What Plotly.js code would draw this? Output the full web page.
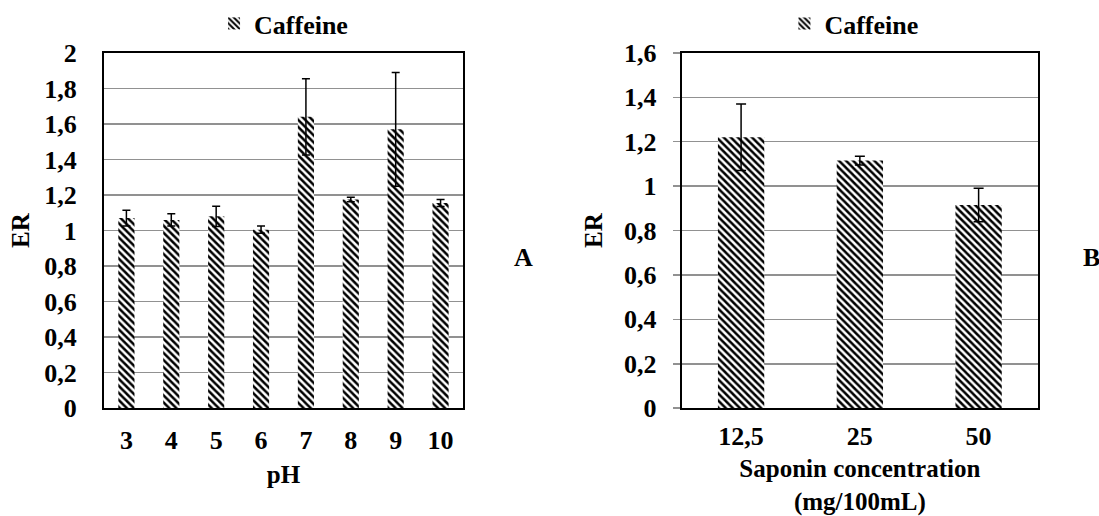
<!DOCTYPE html>
<html>
<head>
<meta charset="utf-8">
<script src="https://cdn.plot.ly/plotly-3.0.1.min.js"></script>
<style>html,body{margin:0;padding:0;background:#fff}#chart{width:1099px;height:516px}</style>
</head>
<body>
<div id="chart"></div>
<script>
// ---- Data ----
const seriesName = 'Caffeine';
const phCategories = ['3', '4', '5', '6', '7', '8', '9', '10'];
const phER = [1.07, 1.06, 1.08, 1.005, 1.64, 1.175, 1.57, 1.155];
const phErr = [0.045, 0.035, 0.057, 0.02, 0.215, 0.013, 0.32, 0.02];

const saponinCategories = ['12,5', '25', '50'];
const saponinER = [1.22, 1.115, 0.915];
const saponinErr = [0.15, 0.02, 0.075];

const yTickValsA = [0, 0.2, 0.4, 0.6, 0.8, 1, 1.2, 1.4, 1.6, 1.8, 2];
const yTickTextA = ['0', '0,2', '0,4', '0,6', '0,8', '1', '1,2', '1,4', '1,6', '1,8', '2'];
const yTickValsB = [0, 0.2, 0.4, 0.6, 0.8, 1, 1.2, 1.4, 1.6];
const yTickTextB = ['0', '0,2', '0,4', '0,6', '0,8', '1', '1,2', '1,4', '1,6'];

const xTitleA = 'pH';
const xTitleB = 'Saponin concentration<br>(mg/100mL)';
const yTitle = 'ER';

// ---- Styles ----
const FONT = 'Liberation Serif';
const tickFont = {family: FONT, size: 26, color: '#000', weight: 'bold'};
const titleFont = {family: FONT, size: 25, color: '#000', weight: 'bold'};
const legendFont = {family: FONT, size: 26, color: '#000', weight: 'bold'};
const pattern = {shape: '\\', size: 5, solidity: 0.5, fgcolor: '#000', fgopacity: 1, bgcolor: '#fff'};

const traces = [
  {
    type: 'bar', name: seriesName, x: phCategories, y: phER, xaxis: 'x', yaxis: 'y',
    width: 0.36, legend: 'legend',
    marker: {color: '#fff', line: {width: 0}, pattern: pattern},
    error_y: {type: 'data', array: phErr, visible: true, color: '#000', thickness: 1.5, width: 4}
  },
  {
    type: 'bar', name: seriesName, x: saponinCategories, y: saponinER, xaxis: 'x2', yaxis: 'y2',
    width: 0.39, legend: 'legend2',
    marker: {color: '#fff', line: {width: 0}, pattern: pattern},
    error_y: {type: 'data', array: saponinErr, visible: true, color: '#000', thickness: 1.5, width: 5}
  }
];

const yDom = [0.2093, 0.8992];

const layout = {
  width: 1099, height: 516,
  margin: {l: 0, r: 0, t: 0, b: 0},
  paper_bgcolor: '#fff', plot_bgcolor: '#fff',
  font: {family: FONT, size: 26, color: '#000', weight: 'bold'},
  showlegend: true,
  xaxis: {
    domain: [0.0946, 0.4213], anchor: 'y', type: 'category',
    showline: true, linecolor: '#000', linewidth: 2, mirror: true,
    showgrid: false, ticks: 'outside', ticklen: 0, ticklabelstandoff: 8,
    tickfont: tickFont, automargin: false,
    title: {text: xTitleA, font: titleFont, standoff: 11}
  },
  yaxis: {
    domain: yDom, anchor: 'x', range: [0, 2],
    tickmode: 'array', tickvals: yTickValsA, ticktext: yTickTextA,
    showline: true, linecolor: '#000', linewidth: 2, mirror: true,
    showgrid: true, gridcolor: '#919191', gridwidth: 1.5, zeroline: false,
    ticks: '', ticklabelstandoff: 20, tickfont: tickFont, automargin: false,
    title: {text: yTitle, font: titleFont, standoff: 8}
  },
  xaxis2: {
    domain: [0.6203, 0.9445], anchor: 'y2', type: 'category',
    showline: true, linecolor: '#000', linewidth: 2, mirror: true,
    showgrid: false, ticks: 'outside', ticklen: 0, ticklabelstandoff: 4,
    tickfont: tickFont, automargin: false,
    title: {text: xTitleB, font: titleFont, standoff: 10}
  },
  yaxis2: {
    domain: yDom, anchor: 'x2', range: [0, 1.6],
    tickmode: 'array', tickvals: yTickValsB, ticktext: yTickTextB,
    showline: true, linecolor: '#000', linewidth: 2, mirror: true,
    showgrid: true, gridcolor: '#919191', gridwidth: 1.5, zeroline: false,
    ticks: 'outside', ticklen: 7, tickcolor: '#919191', tickwidth: 1.5,
    ticklabelstandoff: 11, tickfont: tickFont, automargin: false,
    title: {text: yTitle, font: titleFont, standoff: 14}
  },
  legend: {
    x: 0.258, y: 0.957, xanchor: 'center', yanchor: 'middle', orientation: 'h',
    bgcolor: 'rgba(0,0,0,0)', font: legendFont, itemwidth: 30
  },
  legend2: {
    x: 0.777, y: 0.957, xanchor: 'center', yanchor: 'middle', orientation: 'h',
    bgcolor: 'rgba(0,0,0,0)', font: legendFont, itemwidth: 30
  },
  annotations: [
    {text: 'A', xref: 'paper', yref: 'paper', x: 0.476, y: 0.502, showarrow: false,
     xanchor: 'center', yanchor: 'middle', font: legendFont},
    {text: 'B', xref: 'paper', yref: 'paper', x: 0.993, y: 0.502, showarrow: false,
     xanchor: 'center', yanchor: 'middle', font: legendFont}
  ]
};

Plotly.newPlot('chart', traces, layout, {staticPlot: true, displayModeBar: false});
</script>
</body>
</html>
